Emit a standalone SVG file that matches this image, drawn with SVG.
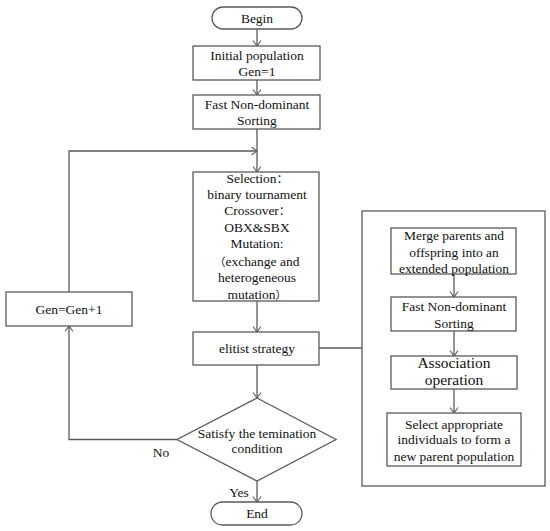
<svg xmlns="http://www.w3.org/2000/svg" width="550" height="531" viewBox="0 0 550 531" font-family="'Liberation Serif', 'DejaVu Serif', serif">
<style>
.b{fill:#fff;stroke:#5a5a5a;stroke-width:1.3}
.c{fill:none;stroke:#5a5a5a;stroke-width:1.3}
.a{marker-end:url(#ar)}
text{font-size:13.5px;fill:#111;text-anchor:middle}
.cj{font-family:'Noto Sans CJK SC',sans-serif;font-size:11px}
.l{font-size:15.5px}
</style>
<defs>
<marker id="ar" markerUnits="userSpaceOnUse" markerWidth="12" markerHeight="12" refX="6" refY="4.5" orient="auto">
<path d="M0.5,0.5 L6,4.5 L0.5,8.5" fill="none" stroke="#5a5a5a" stroke-width="1.1"/>
</marker>
</defs>
<rect width="550" height="531" fill="#fff"/>
<g id="elitist-detail">
<rect class="b" x="362" y="211" width="183" height="275"/>
</g>
<g id="connectors">
<path class="c a" d="M257,29 V46"/>
<path class="c a" d="M257,80 V95"/>
<path class="c a" d="M257,129 V172"/>
<path class="c a" d="M69,292 V151 H257"/>
<path class="c a" d="M257,301 V332"/>
<path class="c a" d="M257,365 V398"/>
<path class="c a" d="M177,439.5 H69 V326"/>
<path class="c a" d="M257,481 V502"/>
<path class="c" d="M319,348 H362"/>
<path class="c a" d="M454,274 V297"/>
<path class="c a" d="M454,331 V356"/>
<path class="c a" d="M454,389 V413"/>
</g>
<g id="begin">
<rect class="b" x="212" y="7" width="90" height="22" rx="11"/>
<text x="257" y="23">Begin</text>
</g>
<g id="init">
<rect class="b" x="193" y="46" width="127" height="34"/>
<text x="257" y="60">Initial population</text>
<text x="257" y="76">Gen=1</text>
</g>
<g id="sort1">
<rect class="b" x="193" y="95" width="127" height="34"/>
<text x="257" y="109">Fast Non-dominant</text>
<text x="257" y="125">Sorting</text>
</g>
<g id="ops">
<rect class="b" x="193" y="172" width="126" height="129"/>
<text x="257" y="183">Selection<tspan class="cj">：</tspan></text>
<text x="257" y="199">binary tournament</text>
<text x="257" y="215">Crossover<tspan class="cj">：</tspan></text>
<text x="257" y="232">OBX&amp;SBX</text>
<text x="257" y="248">Mutation:</text>
<text x="257" y="266"><tspan class="cj">（</tspan>exchange and</text>
<text x="257" y="282">heterogeneous</text>
<text x="257" y="299">mutation<tspan class="cj">）</tspan></text>
</g>
<g id="elitist">
<rect class="b" x="193" y="332" width="126" height="33"/>
<text x="257" y="353">elitist strategy</text>
</g>
<g id="gen">
<rect class="b" x="6" y="292" width="126" height="34"/>
<text x="69" y="314">Gen=Gen+1</text>
</g>
<g id="decision">
<polygon class="b" points="257,398 336,439.5 257,481 177,439.5"/>
<text x="257" y="438">Satisfy the temination</text>
<text x="257" y="453">condition</text>
</g>
<text x="161" y="457">No</text>
<text x="239" y="497">Yes</text>
<g id="end">
<rect class="b" x="211" y="502" width="91" height="23" rx="11.5"/>
<text x="257" y="518">End</text>
</g>
<g id="merge">
<rect class="b" x="391" y="228" width="125" height="46"/>
<text x="454" y="240">Merge parents and</text>
<text x="454" y="257">offspring into an</text>
<text x="454" y="273">extended population</text>
</g>
<g id="sort2">
<rect class="b" x="391" y="297" width="125" height="34"/>
<text x="454" y="311">Fast Non-dominant</text>
<text x="454" y="328">Sorting</text>
</g>
<g id="assoc">
<rect class="b" x="391" y="356" width="126" height="33"/>
<text class="l" x="454" y="368">Association</text>
<text class="l" x="454" y="385">operation</text>
</g>
<g id="select">
<rect class="b" x="387" y="413" width="134" height="53"/>
<text x="454" y="429">Select appropriate</text>
<text x="454" y="444">individuals to form a</text>
<text x="454" y="461">new parent population</text>
</g>
</svg>
